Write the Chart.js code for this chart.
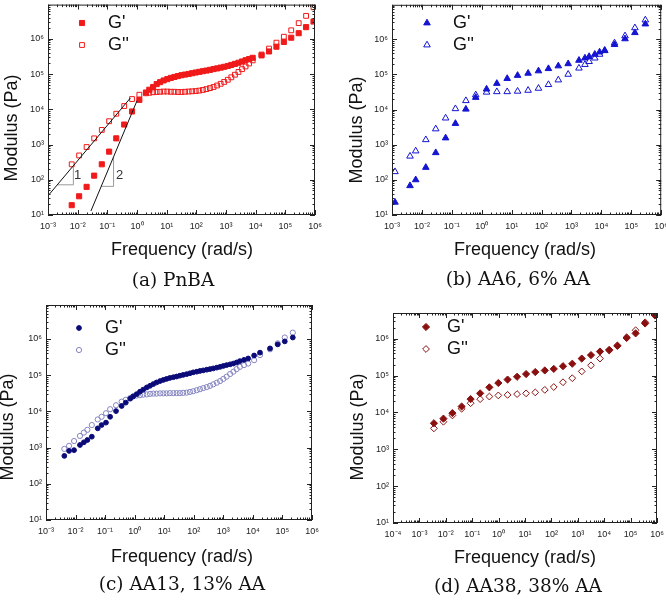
<!DOCTYPE html>
<html>
<head>
<meta charset="utf-8">
<script src="https://cdn.jsdelivr.net/npm/chart.js@4.4.0/dist/chart.umd.min.js"></script>
<style>
  body { margin: 0; background: #fff; width: 666px; height: 601px; position: relative; overflow: hidden; }
  canvas { position: absolute; }
  .cap { position: absolute; font-family: "DejaVu Serif", serif; font-size: 18.5px; color: #111;
         white-space: nowrap; transform: translate(-50%, -50%); }
</style>
</head>
<body>
<canvas id="pa" width="333" height="300" style="left:0;top:0"></canvas>
<canvas id="pb" width="333" height="300" style="left:333px;top:0"></canvas>
<canvas id="pc" width="333" height="301" style="left:0;top:300px"></canvas>
<canvas id="pd" width="333" height="301" style="left:333px;top:300px"></canvas>
<div class="cap" style="left:173px;top:279px">(a) PnBA</div>
<div class="cap" style="left:518px;top:278px">(b) AA6, 6% AA</div>
<div class="cap" style="left:182px;top:583px">(c) AA13, 13% AA</div>
<div class="cap" style="left:518px;top:585px">(d) AA38, 38% AA</div>
<script>
// tick values / labels
const yTickVals = [1e1, 1e2, 1e3, 1e4, 1e5, 1e6];
const yTickLabels = ['10¹', '10²', '10³', '10⁴', '10⁵', '10⁶'];
const freqTickVals = [1e-3, 1e-2, 1e-1, 1e0, 1e1, 1e2, 1e3, 1e4, 1e5, 1e6];
const freqTickLabels = ['10⁻³', '10⁻²', '10⁻¹', '10⁰', '10¹', '10²', '10³', '10⁴', '10⁵', '10⁶'];
const freqTickValsD = [1e-4, 1e-3, 1e-2, 1e-1, 1e0, 1e1, 1e2, 1e3, 1e4, 1e5, 1e6];
const freqTickLabelsD = ['10⁻⁴', '10⁻³', '10⁻²', '10⁻¹', '10⁰', '10¹', '10²', '10³', '10⁴', '10⁵', '10⁶'];

// (a) PnBA
const pnbaFreq = [0.0063, 0.0112, 0.020, 0.036, 0.065, 0.115, 0.20, 0.37, 0.68, 1.2,
  2.0, 2.6, 3.5, 4.6, 6.0, 7.9, 10.5, 13.8, 18.2, 24, 31.6, 41.7, 55, 72.4, 95.5, 126, 166, 219, 288, 380,
  501, 661, 871, 1150, 1510, 2000, 2630, 3470, 4570, 6030, 7940,
  15800, 28200, 50100, 89100, 158000, 282000, 501000, 891000];
const pnbaG1 = [19, 34, 63, 131, 275, 630, 1500, 3700, 8700, 18600,
  30000, 36000, 43000, 52000, 59000, 66000, 72000, 78000, 83000, 88000, 93000, 97000, 101000, 106000, 111000,
  116000, 121000, 126000, 132000, 139000, 145000, 153000, 161000, 170000, 182000, 195000, 210000, 228000,
  248000, 268000, 290000,
  340000, 440000, 600000, 820000, 1080000, 1450000, 2150000, 3100000];
const pnbaG2 = [275, 490, 850, 1500, 2600, 4600, 7500, 12400, 19600, 26000,
  28500, 29500, 30500, 31000, 31500, 32000, 32000, 31500, 31500, 31000, 31000, 31500, 32000, 32500, 33000,
  34000, 35500, 37500, 40000, 43000, 47500, 53000, 60000, 69000, 81000, 96000, 115000, 138000,
  165000, 200000, 245000,
  360000, 530000, 780000, 1150000, 1750000, 2800000, 4500000, 7900000];
const slope1Line = [[1e-3, 35], [0.6, 21000]];
const slope2Line = [[0.028, 13], [1.0, 17500]];
const slope1Tri = [[0.00206, 72], [0.00716, 72], [0.00716, 250]];
const slope2Tri = [[0.0623, 65], [0.162, 65], [0.162, 447]];

// (b) AA6
const aa6Freq = [0.00126, 0.0040, 0.0062, 0.0135, 0.029, 0.062, 0.132, 0.295, 0.63, 1.45, 3.2, 7.1, 15.8, 35.5,
  79, 170, 363, 776, 1780, 2820, 3890, 6030, 8710, 12900, 27500, 61700, 132000, 295000];
const aa6G1 = [23, 68, 100, 225, 590, 1550, 4000, 10200, 22000, 38000, 55000, 76000, 93000, 107000,
  125000, 145000, 173000, 200000, 250000, 290000, 320000, 370000, 430000, 480000, 700000, 1020000, 1530000, 2700000];
const aa6G2 = [170, 470, 660, 1380, 2800, 5700, 10500, 17800, 26000, 31000, 32000, 32000, 33000, 35000,
  40000, 51000, 69000, 100000, 150000, 190000, 230000, 290000, 370000, 470000, 780000, 1240000, 2100000, 3500000];

// (c) AA13
const aa13Freq = [0.00417, 0.00603, 0.00891, 0.0141, 0.0191, 0.0251, 0.0355, 0.0562, 0.0759, 0.107, 0.148,
  0.234, 0.363, 0.501, 0.708, 0.891,
  1.17, 1.51, 1.95, 2.57, 3.31, 4.27, 5.50, 7.24, 9.33, 12.0, 15.5, 20.4, 26.3, 33.9, 43.7, 57.5, 74.1, 95.5,
  126, 162, 209, 275, 355, 457, 603, 776, 1000, 1290, 1700, 2190, 2820, 3630, 5010, 6920,
  11000, 17400, 38000, 69200, 120000, 224000];
const aa13G1 = [590, 810, 850, 1180, 1400, 1620, 2000, 3400, 4200, 4900, 7100, 10200, 14100, 17500, 22500, 26000,
  30000, 35000, 40000, 46000, 51000, 57000, 63000, 69000, 74000, 79000, 84000, 88000, 92000, 97000, 102000,
  107000, 113000, 120000, 125000, 131000, 136000, 142000, 148000, 154000, 162000, 170000, 180000, 190000,
  200000, 210000, 225000, 245000, 265000, 290000,
  350000, 420000, 550000, 710000, 860000, 1100000];
const aa13G2 = [920, 1120, 1520, 2100, 2600, 3100, 4200, 6000, 7100, 8900, 11500, 14800, 18600, 21000, 23500, 26000,
  27500, 28000, 29000, 29500, 30500, 31000, 31000, 31500, 31500, 31500, 32000, 32000, 32000, 32000, 32500,
  33000, 34500, 36000, 38500, 41000, 44000, 47000, 51000, 56000, 62000, 69000, 79000, 91000,
  108000, 125000, 147000, 170000, 190000, 210000,
  260000, 360000, 520000, 760000, 1100000, 1500000];

// (d) AA38
const aa38Freq = [0.00355, 0.00813, 0.0178, 0.0398, 0.0871, 0.200, 0.447, 0.977, 2.19, 5.01, 11.0, 24.5, 56.2,
  123, 275, 617, 1410, 3160, 6920, 15500, 31600, 70800, 155000, 355000, 832000];
const aa38G1 = [5100, 6800, 9600, 14500, 23000, 33000, 48000, 63000, 78000, 93000, 110000, 125000, 138000,
  152000, 180000, 210000, 290000, 360000, 450000, 500000, 640000, 1050000, 1400000, 2600000, 4300000];
const aa38G2 = [3700, 5600, 8300, 12600, 17800, 23000, 27000, 29000, 30000, 31500, 33000, 35000, 41000,
  49000, 66000, 85000, 130000, 190000, 290000, 480000, 660000, 1100000, 1700000, 2800000, 4500000];

Chart.defaults.font.family = '"Liberation Sans", Arial, sans-serif';

const pts = (f, g) => f.map((v, i) => ({x: v, y: g[i]}));
const xy = arr => arr.map(p => ({x: p[0], y: p[1]}));
const CLEAR = 'rgba(255,255,255,0)';

function markerSet(label, data, style, r, color, filled) {
  return {
    label, data, pointStyle: style, pointRadius: r, pointHoverRadius: r,
    backgroundColor: filled ? color : CLEAR, borderColor: color, borderWidth: 1, showLine: false
  };
}
function lineSet(data, color) {
  return { data, showLine: true, borderColor: color, borderWidth: 1, pointRadius: 0, fill: false };
}

function drawMarker(ctx, style, x, y, r, color, filled) {
  ctx.beginPath();
  if (style === 'rect') {
    const s = r * Math.SQRT1_2;
    ctx.rect(x - s, y - s, 2 * s, 2 * s);
  } else if (style === 'triangle') {
    for (let k = 0; k < 3; k++) {
      const a = k * 2 * Math.PI / 3;
      const px = x + Math.sin(a) * r, py = y - Math.cos(a) * r;
      k ? ctx.lineTo(px, py) : ctx.moveTo(px, py);
    }
    ctx.closePath();
  } else if (style === 'rectRot') {
    ctx.moveTo(x - r, y); ctx.lineTo(x, y - r); ctx.lineTo(x + r, y); ctx.lineTo(x, y + r);
    ctx.closePath();
  } else {
    ctx.arc(x, y, r, 0, Math.PI * 2);
  }
  if (filled) { ctx.fillStyle = color; ctx.fill(); }
  ctx.strokeStyle = color; ctx.lineWidth = 1; ctx.stroke();
}

function logMarks(min, max) {
  const out = [];
  for (let e = Math.floor(Math.log10(min)); e <= Math.ceil(Math.log10(max)); e++) {
    for (let k = 1; k <= 9; k++) {
      const v = k * Math.pow(10, e);
      if (v >= min * 0.999 && v <= max * 1.001) out.push({v, major: k === 1});
    }
  }
  return out;
}

const decor = {};

// frame with inward ticks on all four sides, axis titles, legend and notes
const framePlugin = {
  id: 'frame',
  afterDraw(chart) {
    const d = decor[chart.canvas.id];
    const {ctx, chartArea: a, scales: {x, y}} = chart;
    ctx.save();
    ctx.strokeStyle = '#222';
    ctx.lineWidth = 1;
    ctx.strokeRect(a.left + 0.5, a.top + 0.5, a.right - a.left - 1, a.bottom - a.top - 1);
    ctx.beginPath();
    logMarks(x.min, x.max).forEach(t => {
      const px = Math.round(x.getPixelForValue(t.v)) + 0.5, len = t.major ? 5 : 2.5;
      ctx.moveTo(px, a.bottom); ctx.lineTo(px, a.bottom - len);
      ctx.moveTo(px, a.top); ctx.lineTo(px, a.top + len);
    });
    logMarks(y.min, y.max).forEach(t => {
      const py = Math.round(y.getPixelForValue(t.v)) + 0.5, len = t.major ? 5 : 2.5;
      ctx.moveTo(a.left, py); ctx.lineTo(a.left + len, py);
      ctx.moveTo(a.right, py); ctx.lineTo(a.right - len, py);
    });
    ctx.stroke();

    ctx.fillStyle = '#111';
    ctx.font = '18px "Liberation Sans", Arial, sans-serif';
    ctx.textAlign = 'center';
    ctx.textBaseline = 'middle';
    ctx.fillText('Frequency (rad/s)', d.xTitle[0], d.xTitle[1]);
    ctx.save();
    ctx.translate(d.yTitle[0], d.yTitle[1]);
    ctx.rotate(-Math.PI / 2);
    ctx.fillText('Modulus (Pa)', 0, 0);
    ctx.restore();

    chart.data.datasets.filter(ds => ds.label).forEach((ds, i) => {
      const ly = d.legendY[i];
      drawMarker(ctx, ds.pointStyle, d.legendX, ly, ds.pointRadius, ds.borderColor, ds.backgroundColor !== CLEAR);
      ctx.fillStyle = '#111';
      ctx.textAlign = 'left';
      ctx.fillText(ds.label, d.legendTextX, ly);
    });

    (d.notes || []).forEach(n => {
      ctx.fillStyle = '#333';
      ctx.font = '13px "Liberation Sans", Arial, sans-serif';
      ctx.textAlign = 'center';
      ctx.fillText(n.text, x.getPixelForValue(n.x), y.getPixelForValue(n.y));
    });
    ctx.restore();
  }
};

function logAxis(min, max, vals, labels, isX, size) {
  return {
    type: 'logarithmic', min, max,
    grid: { display: false, drawTicks: false },
    border: { display: false },
    afterBuildTicks: s => { s.ticks = vals.map(v => ({value: v})); },
    ticks: {
      autoSkip: false, maxRotation: 0, minRotation: 0, padding: isX ? 6 : 4, color: '#222',
      font: { size: 9 },
      callback: (v, i) => labels[i]
    },
    afterFit: s => {
      if (isX) { s.height = size; s.paddingLeft = 0; s.paddingRight = 0; }
      else { s.width = size; s.paddingTop = 0; s.paddingBottom = 0; }
    }
  };
}

function makePanel(id, p) {
  decor[id] = p.decor;
  new Chart(document.getElementById(id), {
    type: 'scatter',
    data: { datasets: p.datasets },
    options: {
      responsive: false,
      animation: false,
      events: [],
      layout: { padding: { top: p.padTop, right: p.padRight, left: 0, bottom: 0 } },
      plugins: { legend: { display: false }, tooltip: { enabled: false } },
      scales: {
        x: logAxis(p.xMin, 1e6, p.xVals, p.xLabels, true, p.xH),
        y: logAxis(10, p.yMax, yTickVals, yTickLabels, false, p.yW)
      }
    },
    plugins: [framePlugin]
  });
}

const red = '#f01a1a', blue = '#1414d2', navy = '#0a0a78', lilac = '#8585c2', maroon = '#8a1010';

makePanel('pa', {
  xMin: 1e-3, yMax: 9.4e6, xVals: freqTickVals, xLabels: freqTickLabels,
  yW: 48, xH: 85, padTop: 0, padRight: 18,
  datasets: [
    lineSet(xy(slope1Line), '#111'),
    lineSet(xy(slope2Line), '#111'),
    lineSet(xy(slope1Tri), '#9a9a9a'),
    lineSet(xy(slope2Tri), '#9a9a9a'),
    markerSet("G'", pts(pnbaFreq, pnbaG1), 'rect', 3.6, red, true),
    markerSet("G''", pts(pnbaFreq, pnbaG2), 'rect', 3.4, red, false)
  ],
  decor: { xTitle: [182, 250], yTitle: [12, 128], legendX: 82, legendY: [23, 45], legendTextX: 108,
           notes: [{text: '1', x: 0.0100, y: 135}, {text: '2', x: 0.257, y: 129}] }
});

makePanel('pb', {
  xMin: 1e-3, yMax: 9.5e6, xVals: freqTickVals, xLabels: freqTickLabels,
  yW: 59, xH: 85, padTop: 1, padRight: 2,
  datasets: [
    markerSet("G'", pts(aa6Freq, aa6G1), 'triangle', 3.8, blue, true),
    markerSet("G''", pts(aa6Freq, aa6G2), 'triangle', 3.8, blue, false)
  ],
  decor: { xTitle: [192, 250], yTitle: [24, 130], legendX: 94, legendY: [23, 45], legendTextX: 120 }
});

makePanel('pc', {
  xMin: 1e-3, yMax: 8.7e6, xVals: freqTickVals, xLabels: freqTickLabels,
  yW: 46, xH: 81, padTop: 5, padRight: 21,
  datasets: [
    markerSet("G'", pts(aa13Freq, aa13G1), 'circle', 2.4, navy, true),
    markerSet("G''", pts(aa13Freq, aa13G2), 'circle', 2.6, lilac, false)
  ],
  decor: { xTitle: [182, 257], yTitle: [8, 127], legendX: 79, legendY: [28, 50], legendTextX: 105 }
});

makePanel('pd', {
  xMin: 1e-4, yMax: 5e6, xVals: freqTickValsD, xLabels: freqTickLabelsD,
  yW: 60, xH: 78, padTop: 13, padRight: 9,
  datasets: [
    markerSet("G'", pts(aa38Freq, aa38G1), 'rectRot', 3.6, maroon, true),
    markerSet("G''", pts(aa38Freq, aa38G2), 'rectRot', 3.4, maroon, false)
  ],
  decor: { xTitle: [192, 258], yTitle: [25, 127], legendX: 93, legendY: [27, 49], legendTextX: 114 }
});
</script>
</body>
</html>
